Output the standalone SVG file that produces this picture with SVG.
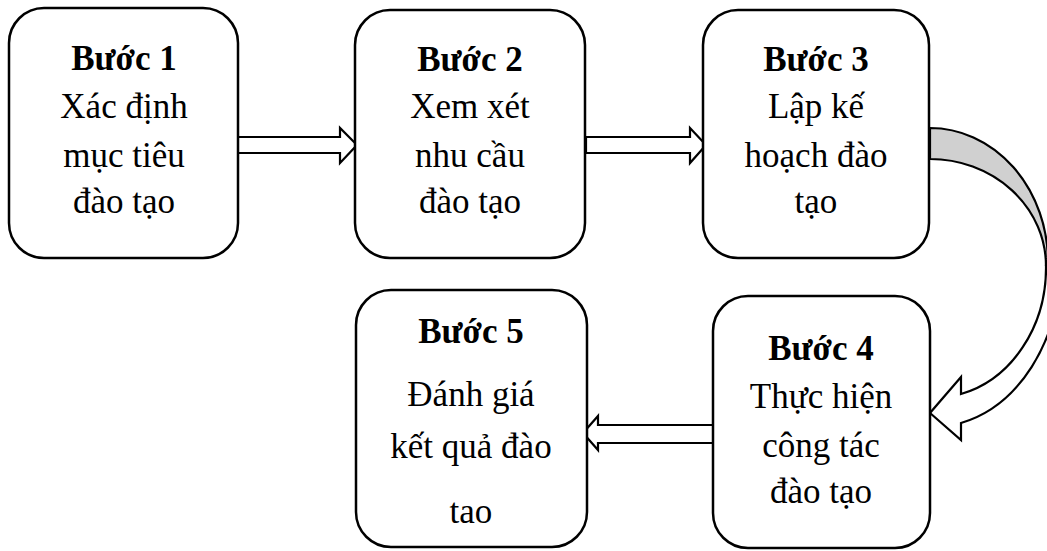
<svg xmlns="http://www.w3.org/2000/svg" width="1047" height="551" viewBox="0 0 1047 551">
  <style>
    .box { fill: #ffffff; stroke: #000000; stroke-width: 2.5; }
    .arrow { fill: #ffffff; stroke: #000000; stroke-width: 2.2; stroke-linejoin: miter; }
    .band { fill: #d0d0d0; stroke: #000000; stroke-width: 2.2; }
    text { font-family: "Liberation Serif", "Times New Roman", serif; font-size: 35px; fill: #000000; text-anchor: middle; }
    .title { font-weight: bold; }
  </style>
  <rect width="1047" height="551" fill="#ffffff"/>

  <!-- connectors -->
  <g id="connectors">
    <polygon class="arrow" points="236,137 340,137 340,128 357,145 340,163 340,153 236,153"/>
    <polygon class="arrow" points="586,137 690,137 690,128 706,145 690,163 690,153 586,153"/>
    <polygon class="arrow" points="715,425 598,425 598,416 583,433 598,450 598,443 715,443"/>
    <!-- curved arrow from step 3 to step 4: shaded back face, then white head -->
    <path class="band" d="M930,128 A118,134 0 0 1 1048,262 L1046,266 A116,107 0 0 0 930,159 Z"/>
    <path class="arrow" d="M1060,268 A128,162 0 0 1 961,423 L961,440 L930,413 L961,377 L961,394 A112,130 0 0 0 1046,266 Z"/>
  </g>

  <g id="step1">
    <rect class="box" x="9" y="8" width="229" height="250" rx="35"/>
    <text class="title" x="124" y="70">Bước 1</text>
    <text x="124" y="118">Xác định</text>
    <text x="124" y="167">mục tiêu</text>
    <text x="124" y="213">đào tạo</text>
  </g>

  <g id="step2">
    <rect class="box" x="355" y="10" width="230" height="248" rx="35"/>
    <text class="title" x="470" y="71">Bước 2</text>
    <text x="470" y="118">Xem xét</text>
    <text x="470" y="167">nhu cầu</text>
    <text x="470" y="213">đào tạo</text>
  </g>

  <g id="step3">
    <rect class="box" x="703" y="10" width="226" height="248" rx="35"/>
    <text class="title" x="816" y="71">Bước 3</text>
    <text x="816" y="118">Lập kế</text>
    <text x="816" y="167">hoạch đào</text>
    <text x="816" y="213">tạo</text>
  </g>

  <g id="step4">
    <rect class="box" x="713" y="296" width="217" height="252" rx="35"/>
    <text class="title" x="821" y="360">Bước 4</text>
    <text x="821" y="408">Thực hiện</text>
    <text x="821" y="457">công tác</text>
    <text x="821" y="503">đào tạo</text>
  </g>

  <g id="step5">
    <rect class="box" x="356" y="290" width="231" height="257" rx="35"/>
    <text class="title" x="471" y="343">Bước 5</text>
    <text x="471" y="406">Đánh giá</text>
    <text x="471" y="458">kết quả đào</text>
    <text x="471" y="523">tao</text>
  </g>
</svg>
